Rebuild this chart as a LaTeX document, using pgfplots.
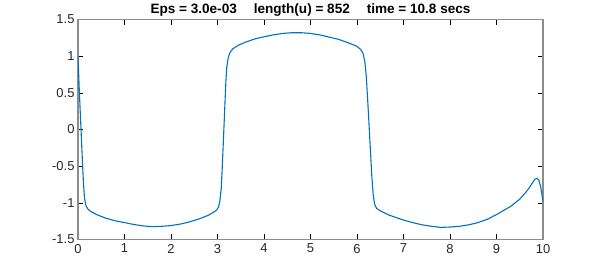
\documentclass[border=0pt]{standalone}
\usepackage{pgfplots}
\pgfplotsset{compat=1.18}
\usepackage{fontspec}
\setmainfont{Liberation Sans}
\definecolor{mlblue}{HTML}{0072BD}
\definecolor{axgray}{HTML}{8C8C8C}
\definecolor{txt}{HTML}{262626}
\begin{document}
\begin{tikzpicture}
\path[use as bounding box] (0,0) rectangle (600bp,270bp);
\begin{axis}[
  at={(78bp,30.5bp)}, anchor=south west,
  scale only axis, width=465bp, height=220bp,
  xmin=0, xmax=10, ymin=-1.5, ymax=1.5,
  xtick={0,1,...,10},
  ytick={-1.5,-1,-0.5,0,0.5,1,1.5},
  yticklabels={-1.5,-1,-0.5,0,0.5,1,1.5},
  xticklabels={0,1,2,3,4,5,6,7,8,9,10},
  tick align=inside,
  major tick length=5bp,
  tick style={black, line width=0.6bp},
  axis line style={axgray, line width=1.1bp},
  ticklabel style={font=\fontsize{13}{15}\selectfont, text=txt},
  /pgf/number format/assume math mode=true,
  xticklabel style={yshift=-1bp},
  yticklabel style={xshift=0bp},
  every axis title/.style={at={(0.5,1)}, anchor=base, yshift=6.2bp, font=\bfseries\fontsize{13.6}{15}\selectfont, text=black},
  title={Eps = 3.0e-03\hspace{17bp}length(u) = 852\hspace{17bp}time = 10.8 secs},
  clip=true,
]
\addplot[mlblue, line width=1.1bp, line join=round] coordinates {
(0,1.00) (0.015,0.75) (0.03,0.50) (0.065,0.00) (0.10,-0.50) (0.12,-0.76)
(0.14,-0.93) (0.16,-1.01) (0.18,-1.05) (0.22,-1.09) (0.28,-1.12) (0.4,-1.16)
(0.6,-1.21) (0.8,-1.245) (1.0,-1.27) (1.2,-1.295) (1.4,-1.315) (1.6,-1.325)
(1.8,-1.32) (2.0,-1.31) (2.2,-1.29) (2.4,-1.26) (2.6,-1.22) (2.8,-1.17)
(2.9,-1.135) (2.98,-1.10) (3.02,-1.06) (3.05,-0.98) (3.08,-0.80) (3.10,-0.55)
(3.12,-0.25) (3.14,0.05) (3.16,0.35) (3.18,0.65) (3.20,0.85) (3.23,0.98)
(3.27,1.05) (3.33,1.10) (3.45,1.15) (3.6,1.19) (3.8,1.235) (4.0,1.265)
(4.2,1.29) (4.4,1.31) (4.6,1.32) (4.8,1.32) (5.0,1.31) (5.2,1.29) (5.4,1.26)
(5.6,1.23) (5.8,1.185) (6.0,1.135) (6.08,1.09) (6.13,1.04) (6.17,0.92)
(6.20,0.72) (6.23,0.40) (6.26,0.05) (6.29,-0.30) (6.32,-0.65) (6.35,-0.90)
(6.38,-1.02) (6.42,-1.075) (6.5,-1.11) (6.7,-1.17) (7.0,-1.235) (7.2,-1.27)
(7.4,-1.30) (7.6,-1.32) (7.8,-1.335) (8.0,-1.33) (8.2,-1.32) (8.4,-1.30)
(8.6,-1.27) (8.8,-1.225) (9.0,-1.16) (9.15,-1.105) (9.3,-1.05) (9.5,-0.95)
(9.6,-0.88) (9.7,-0.80) (9.78,-0.72) (9.83,-0.675) (9.87,-0.665) (9.91,-0.69)
(9.95,-0.78) (9.98,-0.90) (10,-0.99)
};
\end{axis}
\end{tikzpicture}
\end{document}
